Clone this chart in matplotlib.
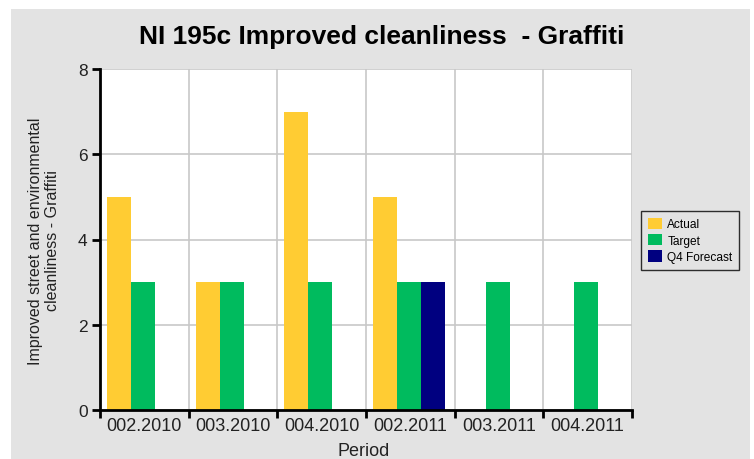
import numpy as np
import matplotlib
matplotlib.use("Agg")
import matplotlib.pyplot as plt
from matplotlib.patches import Rectangle

plt.rcParams['font.family'] = ['Liberation Sans', 'DejaVu Sans']

periods = ['002.2010', '003.2010', '004.2010', '002.2011', '003.2011', '004.2011']
actual = [5, 3, 7, 5, None, None]
target = [3, 3, 3, 3, 3, 3]
q4_forecast = [None, None, None, 3, None, None]

series = [
    ('Actual', actual, '#FFCC33'),
    ('Target', target, '#00BB5E'),
    ('Q4 Forecast', q4_forecast, '#000080'),
]

W, H = 754, 460
fig = plt.figure(figsize=(W / 100, H / 100), dpi=100)
fig.patch.set_facecolor('white')
# grey panel behind the chart
fig.add_artist(Rectangle((11 / W, 0), (750 - 11) / W, (H - 10) / H,
                         transform=fig.transFigure, facecolor='#e3e3e3',
                         edgecolor='none', zorder=-10))

ax = fig.add_axes([100 / W, 1 - 411 / H, (632 - 100) / W, (411 - 70) / H])
ax.set_facecolor('white')

bar_w = 0.27
offset = 0.08
for j, (name, vals, color) in enumerate(series):
    xs, hs = [], []
    for k, v in enumerate(vals):
        if v is not None:
            xs.append(k + offset + j * bar_w)
            hs.append(v)
    ax.bar(xs, hs, width=bar_w, align='edge', color=color, label=name,
           zorder=3, linewidth=0)

ax.set_xlim(0, len(periods))
ax.set_ylim(0, 8)

# boundaries as ticks/grid, labels centred under each group
ax.set_xticks(np.arange(len(periods) + 1))
ax.set_xticklabels([])
ax.set_xticks(np.arange(len(periods)) + 0.5, minor=True)
ax.set_xticklabels(periods, minor=True, fontsize=13, color='#222222')
ax.tick_params(axis='x', which='minor', length=0, pad=5)
ax.tick_params(axis='x', which='major', length=6, width=2, color='black', direction='out')
ax.set_yticks([0, 2, 4, 6, 8])
ax.set_yticklabels(['0', '2', '4', '6', '8'], fontsize=12.5, color='#222222')
ax.tick_params(axis='y', length=6, width=2, color='black', pad=3)

ax.grid(True, which='major', color='#c8c8c8', linewidth=1.2, zorder=0)
ax.set_axisbelow(True)
for s in ['top', 'right']:
    ax.spines[s].set_visible(False)
for s in ['left', 'bottom']:
    ax.spines[s].set_linewidth(2)
    ax.spines[s].set_color('black')
    ax.spines[s].set_zorder(5)

fig.text(382 / W, 1 - 37 / H, 'NI 195c Improved cleanliness  - Graffiti',
         ha='center', va='center', fontsize=19, fontweight='bold', color='black')
fig.text(44 / W, 1 - 241 / H,
         'Improved street and environmental\ncleanliness - Graffiti',
         rotation=90, ha='center', va='center', multialignment='center',
         fontsize=11.5, color='#222222', linespacing=1.1)
fig.text(364 / W, 1 - 452 / H, 'Period', ha='center', va='center',
         fontsize=13, color='#222222')

leg = fig.legend(loc='upper left', bbox_to_anchor=(641 / W, 1 - 212 / H),
                 fontsize=8.6, frameon=True, fancybox=False, handlelength=1.2,
                 handleheight=1.1, handletextpad=0.45, borderpad=0.55,
                 labelspacing=0.3, borderaxespad=0)
leg.get_frame().set_facecolor('#e3e3e3')
leg.get_frame().set_edgecolor('black')
leg.get_frame().set_linewidth(1)

fig.savefig('out.png', dpi=100)
